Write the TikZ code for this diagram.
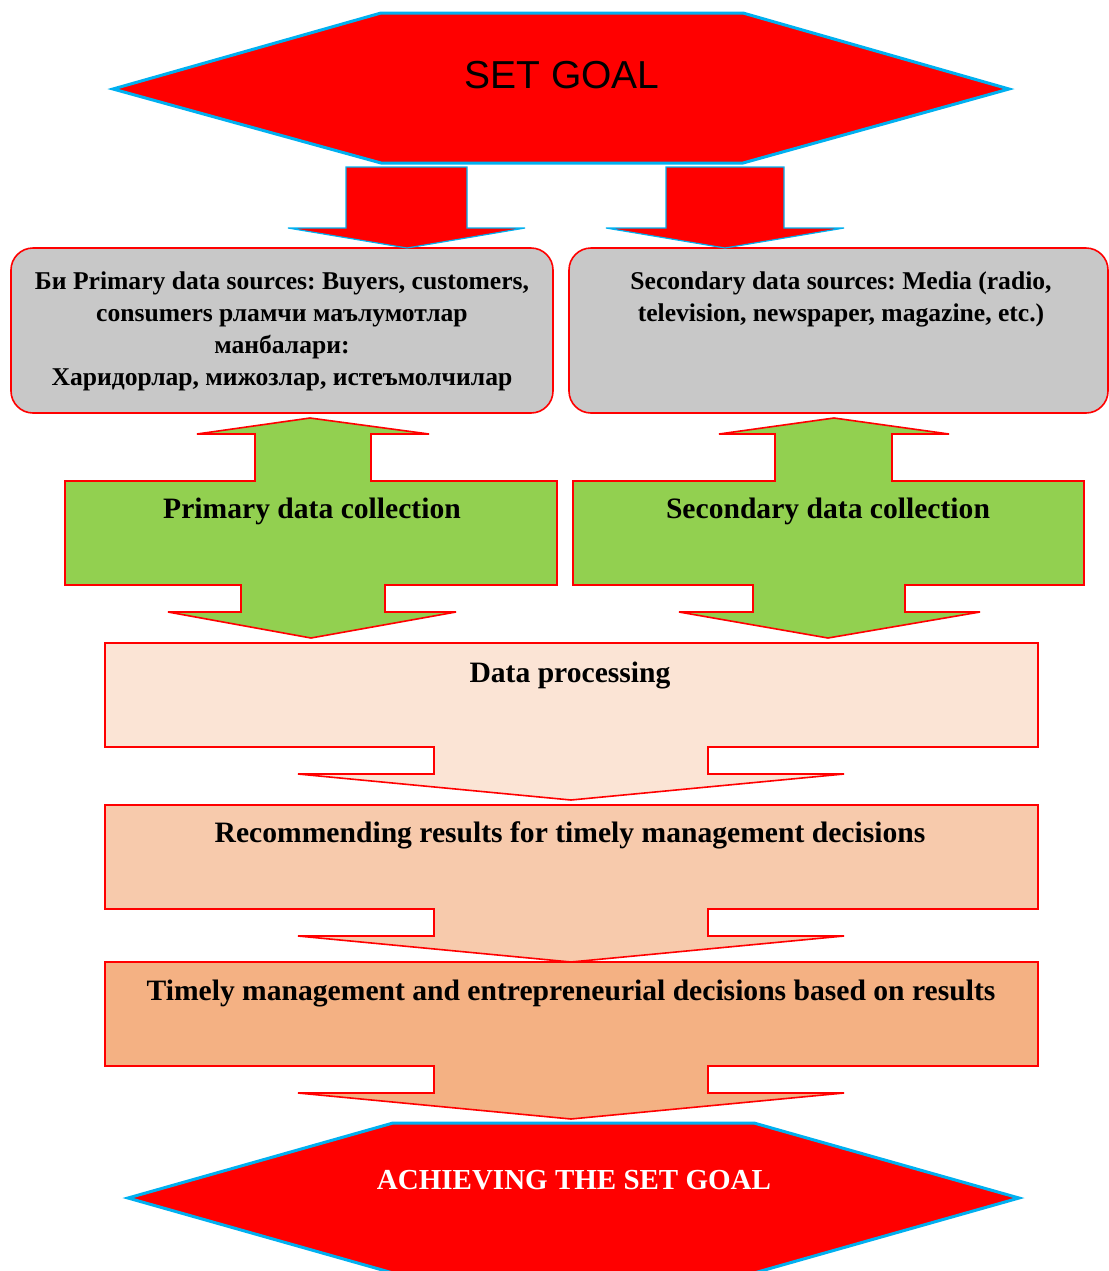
\documentclass[tikz,border=0pt]{standalone}
\usepackage{fontspec}
\setmainfont{Liberation Serif}
\newfontfamily\goalfont{Liberation Sans}
\usetikzlibrary{positioning}
\frenchspacing
\definecolor{goalred}{HTML}{FF0000}
\definecolor{rimblue}{HTML}{00B0F0}
\definecolor{srcgray}{HTML}{C8C8C8}
\definecolor{collgreen}{HTML}{92D050}
\definecolor{procpeach}{HTML}{FBE4D5}
\definecolor{recpeach}{HTML}{F7CAAC}
\definecolor{decpeach}{HTML}{F4B183}

\begin{document}
\begin{tikzpicture}[x=0.5pt, y=-0.5pt,
    hexgoal/.style={fill=goalred, draw=rimblue, line width=1.5pt},
    redarrow/.style={fill=goalred, draw=rimblue, line width=0.6pt},
    srcbox/.style={fill=srcgray, draw=red, line width=0.8pt, rounded corners=11pt},
    blockarrow/.style={draw=red, line width=0.8pt},
    srctext/.style={font=\bfseries\fontsize{12.8}{16}\selectfont, align=center, inner sep=0pt},
    steptext/.style={font=\bfseries\fontsize{14.8}{16}\selectfont, inner sep=0pt}]
        \useasboundingbox (0,0) rectangle (1109,1271);
        % goal
        \path[hexgoal](113,89)--(381,13)--(743,13)--(1009,89)--(743,163)--(381,163)--cycle;
        \node[font=\goalfont\fontsize{19.5}{20}\selectfont, anchor=base, inner sep=0pt](goal)at(562,88){SET GOAL};
        % sources
        \path[srcbox](11,248)rectangle(553,413);
        \path[srcbox](569,248)rectangle(1108,413);
        \path[redarrow](346,167)--(467,167)--(467,228)--(525,228)--(407,248)--(288,228)--(346,228)--cycle;
        \path[redarrow](666,167)--(784,167)--(784,228)--(844,228)--(725,248)--(606,228)--(666,228)--cycle;
        \node[srctext, anchor=north](prisrc)at(282,271){Би Primary data sources: Buyers, customers,\\consumers рламчи маълумотлар\\манбалари:\\Харидорлар, мижозлар, истеъмолчилар};
        \node[srctext, anchor=north](secsrc)at(841,271){Secondary data sources: Media (radio,\\television, newspaper, magazine, etc.)};
        % collection
        \path[blockarrow, fill=collgreen](255,481)--(255,434)--(197,434)--(310,418)--(429,434)--(371,434)--(371,481)--(557,481)--(557,585)--(385,585)--(385,612)--(456,612)--(311,638)--(168,612)--(241,612)--(241,585)--(65,585)--(65,481)--cycle;
        \path[blockarrow, fill=collgreen](775,481)--(775,434)--(719,434)--(834,418)--(949,434)--(892,434)--(892,481)--(1084,481)--(1084,585)--(905,585)--(905,612)--(980,612)--(828,638)--(679,612)--(753,612)--(753,585)--(573,585)--(573,481)--cycle;
        \node[steptext, anchor=base](pricoll)at(312,518){Primary data collection};
        \node[steptext, anchor=base](seccoll)at(828,518){Secondary data collection};
        % processing and decisions
        \foreach \t/\c in {643/procpeach, 805/recpeach, 962/decpeach}
        {
            \path[blockarrow, fill=\c](105,\t)--(1038,\t)--(1038,{\t+104})--(708,{\t+104})--(708,{\t+131})--(844,{\t+131})--(571,{\t+157})--(298,{\t+131})--(434,{\t+131})--(434,{\t+104})--(105,{\t+104})--cycle;
        }
        \node[steptext, anchor=base](proc)at(570,682){Data processing};
        \node[steptext, anchor=base](recom)at(570,842){Recommending results for timely management decisions};
        \node[steptext, anchor=base](decide)at(571,1000){Timely management and entrepreneurial decisions based on results};
        % achieved goal
        \path[hexgoal](128,1198)--(393,1123)--(754,1123)--(1019,1198)--(754,1273)--(393,1273)--cycle;
        \node[font=\bfseries\fontsize{14.5}{16}\selectfont, text=white, anchor=base, inner sep=0pt](achieve)at(574,1189){ACHIEVING THE SET GOAL};
    \end{tikzpicture}
\end{document}
